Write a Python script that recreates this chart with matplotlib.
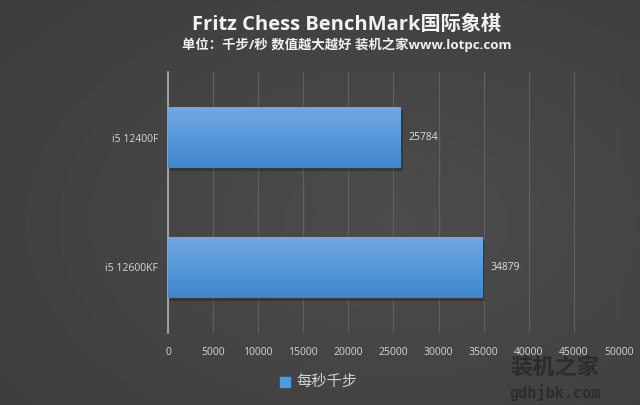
import numpy as np
import matplotlib
matplotlib.use("Agg")
import matplotlib.pyplot as plt

categories = ["i5 12400F", "i5 12600KF"]
values = [25784, 34879]
xticks = [0, 5000, 10000, 15000, 20000, 25000, 30000, 35000, 40000, 45000, 50000]
title = "Fritz Chess BenchMark国际象棋"
subtitle = "单位：千步/秒 数值越大越好 装机之家www.lotpc.com"
legend_label = "每秒千步"

FAM = ["Open Sans", "Noto Sans CJK SC", "DejaVu Sans"]
plt.rcParams["font.family"] = FAM

fig = plt.figure(figsize=(6.4, 4.05), dpi=100)

# background gradient
bg = fig.add_axes([0, 0, 1, 1], zorder=-10)
yy, xx = np.mgrid[0:1:200j, 0:1:320j]
r = np.sqrt(((xx - 0.62) / 0.9) ** 2 + ((yy - 0.45) / 0.9) ** 2)
g = 0.30 - 0.07 * r
bg.imshow(np.dstack([g, g, g]), extent=[0, 1, 0, 1], aspect="auto", origin="lower")
bg.set_axis_off()

ax = fig.add_axes([0.2625, 0.178, 0.967 - 0.2625, 0.822 - 0.178])
ax.set_facecolor("none")
ypos = np.arange(len(categories))
bars = ax.barh(ypos, values, height=0.47, color="#5299dc", edgecolor="none", zorder=3)

# gradient fill on bars
grad = np.linspace(0, 1, 100).reshape(-1, 1)
top = np.array([0.45, 0.66, 0.89])
bot = np.array([0.24, 0.53, 0.81])
img = (top * (1 - grad)[:, :, None] + bot * grad[:, :, None])
for b in bars:
    x0, y0 = b.get_x(), b.get_y()
    w, h = b.get_width(), b.get_height()
    # shadow
    ax.barh(y0 + h / 2 + 0.02, w, height=h, left=250, color="#2a2a2a", alpha=0.5, zorder=2)
    im = ax.imshow(img, extent=[x0, x0 + w, y0 + h, y0], aspect="auto", zorder=4,
                   interpolation="bilinear")
    im.set_clip_path(b)

ax.set_xlim(0, 50000)
ax.set_ylim(1.504, -0.504)
ax.set_xticks(xticks)
ax.set_xticklabels([str(t) for t in xticks])
ax.set_yticks(ypos)
ax.set_yticklabels(categories)
ax.tick_params(axis="both", length=0, colors="#d6d6d6", labelsize=7.5)
ax.tick_params(axis="x", pad=10)
ax.tick_params(axis="y", pad=7)
ax.grid(axis="x", color="#5f5f5f", linewidth=0.9, zorder=1)
ax.set_axisbelow(True)
for s in ["top", "right", "bottom"]:
    ax.spines[s].set_visible(False)
ax.spines["left"].set_color("#b0b0b0")
ax.spines["left"].set_linewidth(1.2)

for yv, v in zip(ypos, values):
    ax.text(v + 900, yv, str(v), va="center", ha="left", color="#e0e0e0", fontsize=7.5, zorder=5)

fig.text(0.542, 0.938, title, ha="center", va="center", color="#f2f2f2",
         fontsize=14.5, fontweight="bold", family=FAM)
fig.text(0.542, 0.890, subtitle, ha="center", va="center", color="#f0f0f0",
         fontsize=9.6, fontweight="bold", family=FAM)

# legend
fig.patches.append(plt.Rectangle((280 / 640, 1 - 387 / 405), 10 / 640, 10 / 405,
                                 transform=fig.transFigure, color="#4a9be0"))
fig.text(296 / 640, 1 - 382 / 405, legend_label, ha="left", va="center",
         color="#d0d0d0", fontsize=11, family=FAM)

# watermark
fig.text(555 / 640, 1 - 368 / 405, "装机之家", ha="center", va="center",
         color="#2c2c2c", fontsize=16, fontweight="bold", family=FAM)
fig.text(555 / 640, 1 - 393 / 405, "gdhjbk.com", ha="center", va="center",
         color="#2c2c2c", fontsize=11, fontweight="bold", family=["DejaVu Sans Mono"])

fig.savefig("out.png", dpi=100)
